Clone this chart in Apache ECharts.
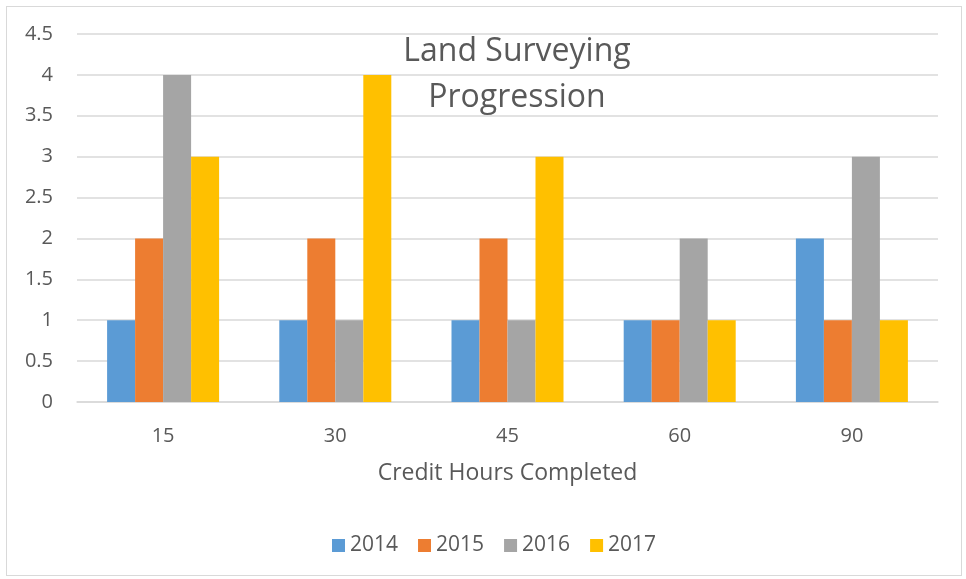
<!DOCTYPE html>
<html>
<head>
<meta charset="utf-8">
<script src="https://cdn.jsdelivr.net/npm/echarts@6/dist/echarts.min.js"></script>
<style>
  html, body { margin: 0; padding: 0; background: #fff; }
  #chart { width: 966px; height: 579px; }
  #frame { position: absolute; left: 6px; top: 6px; width: 956px; height: 570px; border: 1px solid #d9d9d9; box-sizing: border-box; pointer-events: none; }
</style>
</head>
<body>
<div id="chart"></div>
<div id="frame"></div>
<script>
var categories = ['15', '30', '45', '60', '90'];
var years = ['2014', '2015', '2016', '2017'];
var values2014 = [1, 1, 1, 1, 2];
var values2015 = [2, 2, 2, 1, 1];
var values2016 = [4, 1, 1, 2, 3];
var values2017 = [3, 4, 3, 1, 1];
var colors = ['#5b9bd5', '#ed7d31', '#a5a5a5', '#ffc000'];

var fontFamily = '"Open Sans", sans-serif';
var seriesData = [values2014, values2015, values2016, values2017];

var series = years.map(function(y, i) {
    return {
        name: y,
        type: 'bar',
        data: seriesData[i],
        barWidth: 28,
        barGap: '0%',
        itemStyle: { color: colors[i] }
    };
});

var opts = {
    animation: false,
    color: colors,
    title: {
        text: 'Land Surveying\nProgression',
        left: 512,
        top: 24,
        textAlign: 'center',
        textStyle: { fontFamily: fontFamily, fontSize: 32, fontWeight: 'normal', color: '#595959', lineHeight: 46 }
    },
    grid: { left: 77, right: 28, top: 34, bottom: 177, containLabel: false },
    legend: {
        data: years,
        top: 530,
        left: 327,
        itemWidth: 13,
        itemHeight: 13,
        itemGap: 20,
        icon: 'rect',
        textStyle: { fontFamily: fontFamily, fontSize: 21, color: '#595959' }
    },
    xAxis: {
        type: 'category',
        data: categories,
        name: 'Credit Hours Completed',
        nameLocation: 'middle',
        nameGap: 60,
        nameTextStyle: { fontFamily: fontFamily, fontSize: 23, color: '#595959' },
        axisLine: { lineStyle: { color: '#d9d9d9', width: 1.5 } },
        axisTick: { show: false },
        axisLabel: { fontFamily: fontFamily, fontSize: 20, color: '#595959', margin: 24 }
    },
    yAxis: {
        type: 'value',
        min: 0,
        max: 4.5,
        interval: 0.5,
        axisLine: { show: false },
        axisTick: { show: false },
        axisLabel: { fontFamily: fontFamily, fontSize: 20, color: '#595959', margin: 24 },
        splitLine: { lineStyle: { color: '#d9d9d9', width: 1.5 } }
    },
    series: series
};

var myChartObj = echarts.init(document.getElementById('chart'));
myChartObj.setOption(opts);
</script>
</body>
</html>
